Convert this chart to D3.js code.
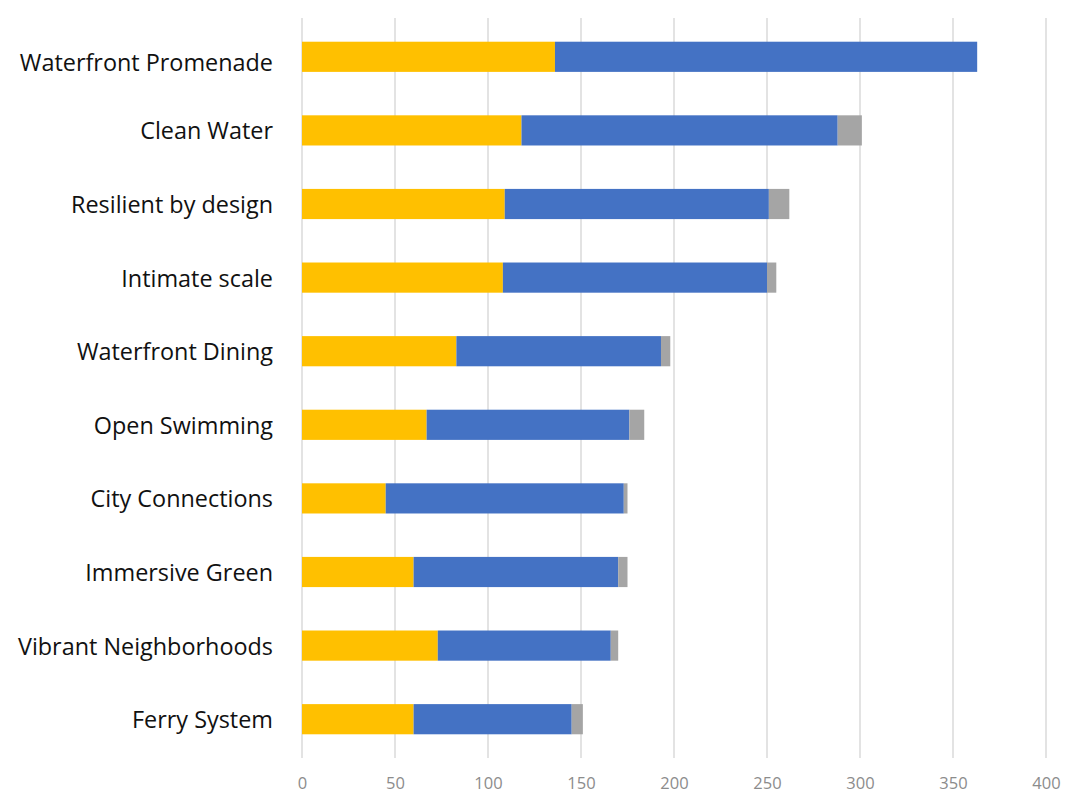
<!DOCTYPE html>
<html>
<head>
<meta charset="utf-8">
<script src="https://cdn.jsdelivr.net/npm/d3@7"></script>
<style>
  html, body { margin: 0; padding: 0; background: #ffffff; }
  svg { display: block; }
</style>
</head>
<body>
<svg id="chart" width="1074" height="804"></svg>
<script>
const categories = ["Waterfront Promenade", "Clean Water", "Resilient by design", "Intimate scale",
  "Waterfront Dining", "Open Swimming", "City Connections", "Immersive Green",
  "Vibrant Neighborhoods", "Ferry System"];
const seriesA = [136, 118, 109, 108, 83, 67, 45, 60, 73, 60];   // yellow
const seriesB = [227, 170, 142, 142, 110, 109, 128, 110, 93, 85]; // blue
const seriesC = [0, 13, 11, 5, 5, 8, 2, 5, 4, 6];              // gray
const tickValues = [0, 50, 100, 150, 200, 250, 300, 350, 400];
const seriesKeys = ["a", "b", "c"];
const colors = {a: "#FFC000", b: "#4472C4", c: "#A5A5A5"};

const rows = categories.map((c, i) => ({cat: c, a: seriesA[i], b: seriesB[i], c: seriesC[i]}));

const svg = d3.select("#chart");
const margin = {left: 302, right: 28, top: 20, bottom: 48};
const W = 1074, H = 804;

const x = d3.scaleLinear().domain([0, 400]).range([margin.left, W - margin.right]);
const y = d3.scaleBand().domain(categories).range([margin.top, H - margin.bottom]).paddingInner(0.59).paddingOuter(0.295);

// gridlines
svg.append("g").selectAll("line").data(tickValues).join("line")
  .attr("x1", d => x(d)).attr("x2", d => x(d))
  .attr("y1", 18).attr("y2", 758)
  .attr("stroke", "#d0d0d0").attr("stroke-width", 1.2);

// stacked bars
const stack = d3.stack().keys(seriesKeys)(rows);
svg.append("g").selectAll("g").data(stack).join("g")
  .attr("fill", d => colors[d.key])
  .selectAll("rect").data(d => d).join("rect")
  .attr("x", d => x(d[0]))
  .attr("width", d => Math.max(0, x(d[1]) - x(d[0])))
  .attr("y", d => y(d.data.cat))
  .attr("height", y.bandwidth());

// category labels
svg.append("g").selectAll("text").data(categories).join("text")
  .attr("x", 273).attr("y", (d, i) => y(d) + y.bandwidth() / 2 + (i === 0 ? 5 : 0))
  .attr("text-anchor", "end").attr("dominant-baseline", "central")
  .attr("font-family", "'Open Sans', sans-serif").attr("font-size", 23.4)
  .attr("fill", "#111").text(d => d);

// x axis tick labels
const xAxis = d3.axisBottom(x).tickValues(tickValues).tickSize(0).tickPadding(0);
const ax = svg.append("g").attr("transform", `translate(0, 776)`).call(xAxis);
ax.select(".domain").remove();
ax.selectAll("text").attr("font-family", "'Open Sans', sans-serif").attr("font-size", 16.5)
  .attr("fill", "#8c8c8c").attr("dy", "0.4em").attr("y", 6);
</script>
</body>
</html>
